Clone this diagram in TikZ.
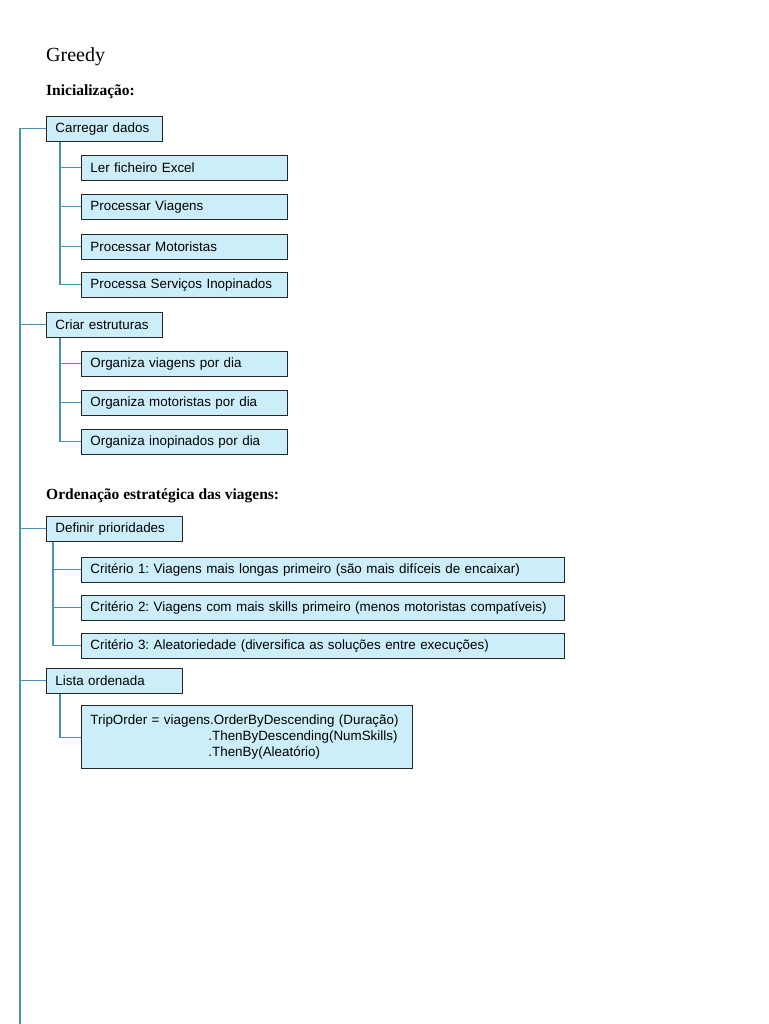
\documentclass[tikz,border=0pt]{standalone}
\usepackage{fontspec}
\setmainfont{Liberation Serif}
\newfontfamily\boxfont{Liberation Sans}
\definecolor{connc}{RGB}{74,145,178}
\definecolor{boxfill}{RGB}{204,238,251}
\begin{document}
\frenchspacing
\begin{tikzpicture}[x=1pt,y=-1pt,
  box/.style={draw=black!85, line width=0.8pt, fill=boxfill, anchor=north west,
    inner xsep=9pt, inner ysep=0pt, minimum height=25pt, text width=#1, align=left,
    font=\boxfont\fontsize{13.4}{16}\selectfont},
  conn/.style={draw=connc, line width=1.1pt},
  title/.style={anchor=base west, inner sep=0pt}]
\useasboundingbox (0,0) rectangle (768,1024);

\node[title, font=\fontsize{20}{24}\selectfont] (greedy) at (46,62) {Greedy};
\node[title, font=\bfseries\fontsize{15.5}{18}\selectfont] (ini) at (46,96) {Inicialização:};
\node[title, font=\bfseries\fontsize{15.5}{18}\selectfont] (ord) at (46,499) {Ordenação estratégica das viagens:};

% main line
\coordinate (mtop) at (20,128);
\coordinate (mbot) at (20,1024);
\draw[conn] (mtop) -- (mbot);

% Carregar dados
\node[box=98pt] (carregar) at (46,116) {Carregar dados};
\node[box=188pt] (ler) at (81,155) {Ler ficheiro Excel};
\node[box=188pt] (pviag) at (81,194) {Processar Viagens};
\node[box=188pt] (pmot) at (81,234) {Processar Motoristas};
\node[box=188pt] (pinop) at (81,272) {Processa Serviços Inopinados};

% Criar estruturas
\node[box=98pt] (criar) at (46,312) {Criar estruturas};
\node[box=188pt] (oviag) at (81,351) {Organiza viagens por dia};
\node[box=188pt] (omot) at (81,390) {Organiza motoristas por dia};
\node[box=188pt] (oinop) at (81,429) {Organiza inopinados por dia};

% Definir prioridades
\node[box=118pt] (definir) at (46,516) {Definir prioridades};
\node[box=465pt] (crit1) at (81,557) {Critério 1: Viagens mais longas primeiro (são mais difíceis de encaixar)};
\node[box=465pt] (crit2) at (81,595) {Critério 2: Viagens com mais skills primeiro (menos motoristas compatíveis)};
\node[box=465pt] (crit3) at (81,633) {Critério 3: Aleatoriedade (diversifica as soluções entre execuções)};

% Lista ordenada
\node[box=118pt] (lista) at (46,668) {Lista ordenada};
\node[box=313pt, minimum height=63pt] (code) at (81,705) {TripOrder = viagens.OrderByDescending (Duração)\\
\hspace*{118pt}.ThenByDescending(NumSkills)\\
\hspace*{118pt}.ThenBy(Aleatório)};

% top-level branches
\foreach \n in {carregar,criar,definir,lista}
  \draw[conn] (\n.west) -- (\n.west -| mtop);

% sub branches
\coordinate (s1) at ([xshift=14pt]carregar.south west);
\foreach \n in {ler,pviag,pmot,pinop}
  \draw[conn] (s1) |- (\n.west);
\coordinate (s2) at ([xshift=14pt]criar.south west);
\foreach \n in {oviag,omot,oinop}
  \draw[conn] (s2) |- (\n.west);
\coordinate (s3) at ([xshift=7pt]definir.south west);
\foreach \n in {crit1,crit2,crit3}
  \draw[conn] (s3) |- (\n.west);
\coordinate (s4) at ([xshift=14pt]lista.south west);
\coordinate (c4) at ([yshift=-0.5pt]code.west);
\draw[conn] (s4) |- (c4);
\end{tikzpicture}
\end{document}
